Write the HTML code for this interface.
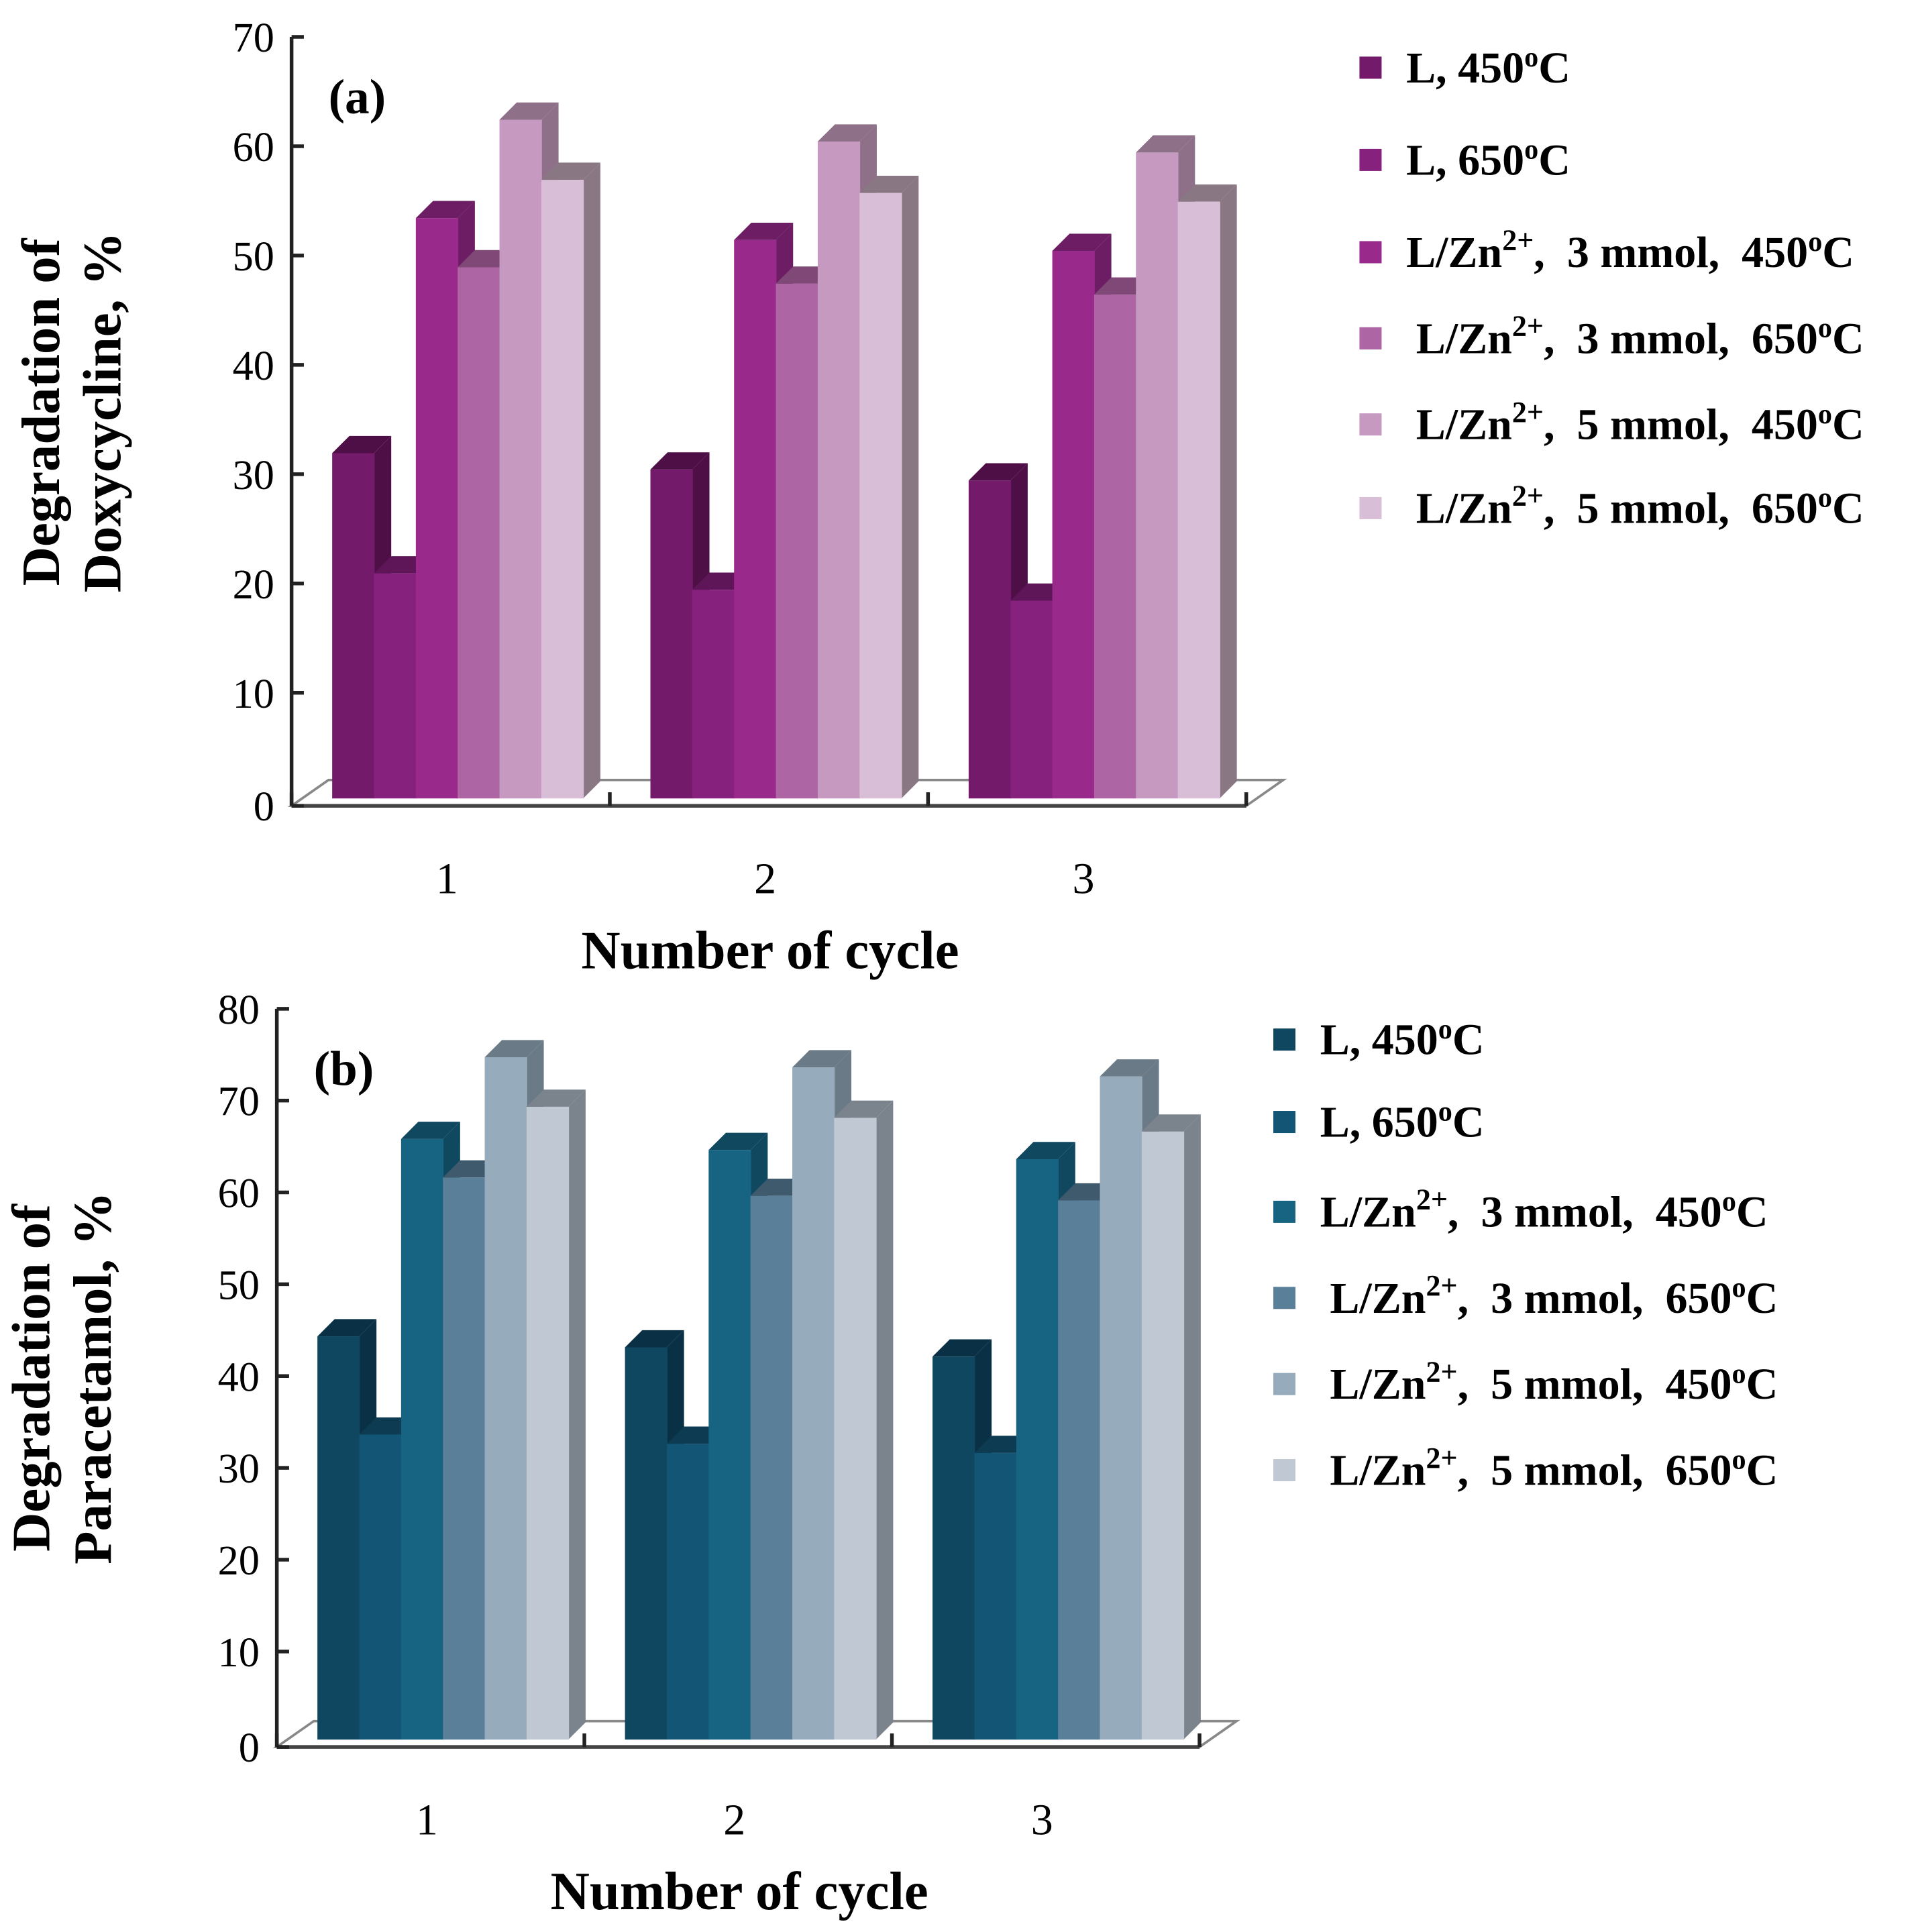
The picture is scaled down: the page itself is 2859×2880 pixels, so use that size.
<!DOCTYPE html>
<html><head><meta charset="utf-8"><style>
html,body{margin:0;padding:0;background:#fff}
svg{display:block}
text{font-family:"Liberation Serif",serif}
</style></head><body>
<svg id="chart" width="2859" height="2880" viewBox="0 0 1559 1570.4" preserveAspectRatio="none" xmlns="http://www.w3.org/2000/svg">
<rect width="1559" height="1571" fill="#fff"/>
</svg>
<script>
const categories = ["1","2","3"];
const seriesNames = ["L, 450\u00B0C","L, 650\u00B0C","L/Zn2+, 3 mmol, 450\u00B0C","L/Zn2+, 3 mmol, 650\u00B0C","L/Zn2+, 5 mmol, 450\u00B0C","L/Zn2+, 5 mmol, 650\u00B0C"];
const doxyCycle1 = [33.5, 22.5, 55, 50.5, 64, 58.5];
const doxyCycle2 = [32, 21, 53, 49, 62, 57.3];
const doxyCycle3 = [31, 20, 52, 48, 61, 56.5];
const paraCycle1 = [46.2, 35.5, 67.7, 63.5, 76.6, 71.2];
const paraCycle2 = [45, 34.5, 66.5, 61.5, 75.5, 70];
const paraCycle3 = [44, 33.5, 65.5, 61, 74.5, 68.5];
const doxyTicks = [0,10,20,30,40,50,60,70];
const paraTicks = [0,10,20,30,40,50,60,70,80];

const NS="http://www.w3.org/2000/svg";
const svg=document.getElementById('chart');
function mk(tag,attrs,parent){const e=document.createElementNS(NS,tag);for(const k in attrs)e.setAttribute(k,attrs[k]);(parent||svg).appendChild(e);return e;}

function panel(cfg){
  const g=mk('g',{});
  
  
  const y=v=>cfg.y0-(v/cfg.max)*(cfg.y0-cfg.yTop);
  const dx=14, dy=14;
  const fl=mk('polygon',{points:`${cfg.ax},${cfg.y0+3} ${cfg.ax+cfg.len},${cfg.y0+3} ${cfg.ax+cfg.len+30},${cfg.y0-18} ${cfg.ax+30},${cfg.y0-18}`,fill:'#fff',stroke:'#888','stroke-width':2},g);
  
  
  const ya=mk('line',{x1:cfg.ax,y1:cfg.yTop,x2:cfg.ax,y2:cfg.y0+3,stroke:'#222','stroke-width':3},g);
  
  
  const xa=mk('line',{x1:cfg.ax,y1:cfg.y0+3,x2:cfg.ax+cfg.len,y2:cfg.y0+3,stroke:'#444','stroke-width':3},g);
  
  
  cfg.ticks.forEach(t=>{
    const yy=y(t)+(t===0?3:0);
    mk('line',{x1:cfg.ax,y1:yy,x2:cfg.ax+10,y2:yy,stroke:'#222','stroke-width':3},g);
    const tl=mk('text',{x:cfg.ax-14,y:yy+12,'font-size':34,'text-anchor':'end'},g);
    tl.textContent=t;
    
    
  });
  const gw=cfg.len/3;
  for(let i=0;i<=3;i++){
    mk('line',{x1:cfg.ax+gw*i,y1:cfg.y0+3,x2:cfg.ax+gw*i,y2:cfg.y0-8,stroke:'#222','stroke-width':3},g);
  }
  const bw=34;
  cfg.data.forEach((vals,ci)=>{
    const gx=cfg.ax+gw*ci+cfg.gOff;
    vals.forEach((v,si)=>{
      const x=gx+si*bw, top=y(v)+dy, bot=cfg.y0-3;
      if(si===5 || vals[si+1]<v){
        const sd=mk('polygon',{points:`${x+bw},${top} ${x+bw+dx},${top-dy} ${x+bw+dx},${bot-dy} ${x+bw},${bot}`,fill:cfg.side[si]},g);
        
        
      }
      const tp=mk('polygon',{points:`${x},${top} ${x+dx},${top-dy} ${x+bw+dx},${top-dy} ${x+bw},${top}`,fill:cfg.side[si]},g);
      
      
      const b=mk('rect',{x:x,y:top,width:bw+0.5,height:bot-top,fill:cfg.colors[si]},g);
      
      
    });
    const cl=mk('text',{x:cfg.ax+gw*ci+gw/2-3,y:cfg.y0+74,'font-size':36,'text-anchor':'middle'},g);
    cl.textContent=categories[ci];
    
    
  });
  const xt=mk('text',{x:cfg.ax+cfg.len/2+1,y:cfg.y0+135,'font-size':44,'font-weight':'bold','text-anchor':'middle'},g);
  xt.textContent='Number of cycle';
  
  
  const yt=mk('text',{transform:`translate(${cfg.ytx},${cfg.yty}) rotate(-90)`,'font-size':44,'font-weight':'bold','text-anchor':'middle'},g);
  const t1=mk('tspan',{x:0,y:0},yt);t1.textContent='Degradation of';
  const t2=mk('tspan',{x:0,y:50},yt);t2.textContent=cfg.drug+', %';
  
  
  const pl=mk('text',{x:cfg.ax+30,y:cfg.yTop+62,'font-size':40,'font-weight':'bold'},g);
  pl.textContent=cfg.label;
  
  
  seriesNames.forEach((n,si)=>{
    const ly=cfg.legY[si];
    const sw=mk('rect',{x:cfg.legX,y:ly-9,width:18,height:18,fill:cfg.colors[si]},g);
    
    
    const lt=mk('text',{x:cfg.legX+(si>=3?46:38),y:ly+12,'font-size':36,'font-weight':'bold'},g);
    const m=n.match(/^(L\/Zn)2\+(.*)$/);
    if(m){lt.appendChild(document.createTextNode(m[1]));const s=mk('tspan',{dy:-14,'font-size':24},lt);s.textContent='2+';const r=mk('tspan',{dy:14},lt);r.textContent=m[2].replace(/, /g,',\u00A0\u00A0').replace('\u00B0','');}
    else lt.textContent=n.replace('\u00B0','');
    const txt=lt.lastChild;
    txt.textContent=txt.textContent.replace(/C$/,'');
    const so=mk('tspan',{dy:-13,'font-size':23},lt);so.textContent='o';
    const sc=mk('tspan',{dy:13},lt);sc.textContent='C';
    
    
  });
}

panel({name:'panel-a-doxycycline',drug:'Doxycycline',label:'(a)',ax:237,y0:652,yTop:30,max:70,len:776,ticks:doxyTicks,gOff:33,
  data:[doxyCycle1,doxyCycle2,doxyCycle3],
  colors:['#731b6a','#87217e','#9a298c','#ad65a3','#c599c0','#d8bed6'],
  side:['#4e0f47','#5f1658','#6c1d63','#7f4877','#8e7088','#8a7784'],
  ytx:48,yty:335,legX:1105,legY:[55,130,205,275,345,413]});
panel({name:'panel-b-paracetamol',drug:'Paracetamol',label:'(b)',ax:225,y0:1417,yTop:820,max:80,len:750,ticks:paraTicks,gOff:33,
  data:[paraCycle1,paraCycle2,paraCycle3],
  colors:['#0f4660','#135574','#176482','#5a7f98','#96abbc','#c0c9d3'],
  side:['#0a3045','#0d3b52','#104860','#3f5a6c','#6a7a86','#7b848c'],
  ytx:40,yty:1120,legX:1035,legY:[845,912,985,1055,1125,1195]});
</script>
</body></html>
